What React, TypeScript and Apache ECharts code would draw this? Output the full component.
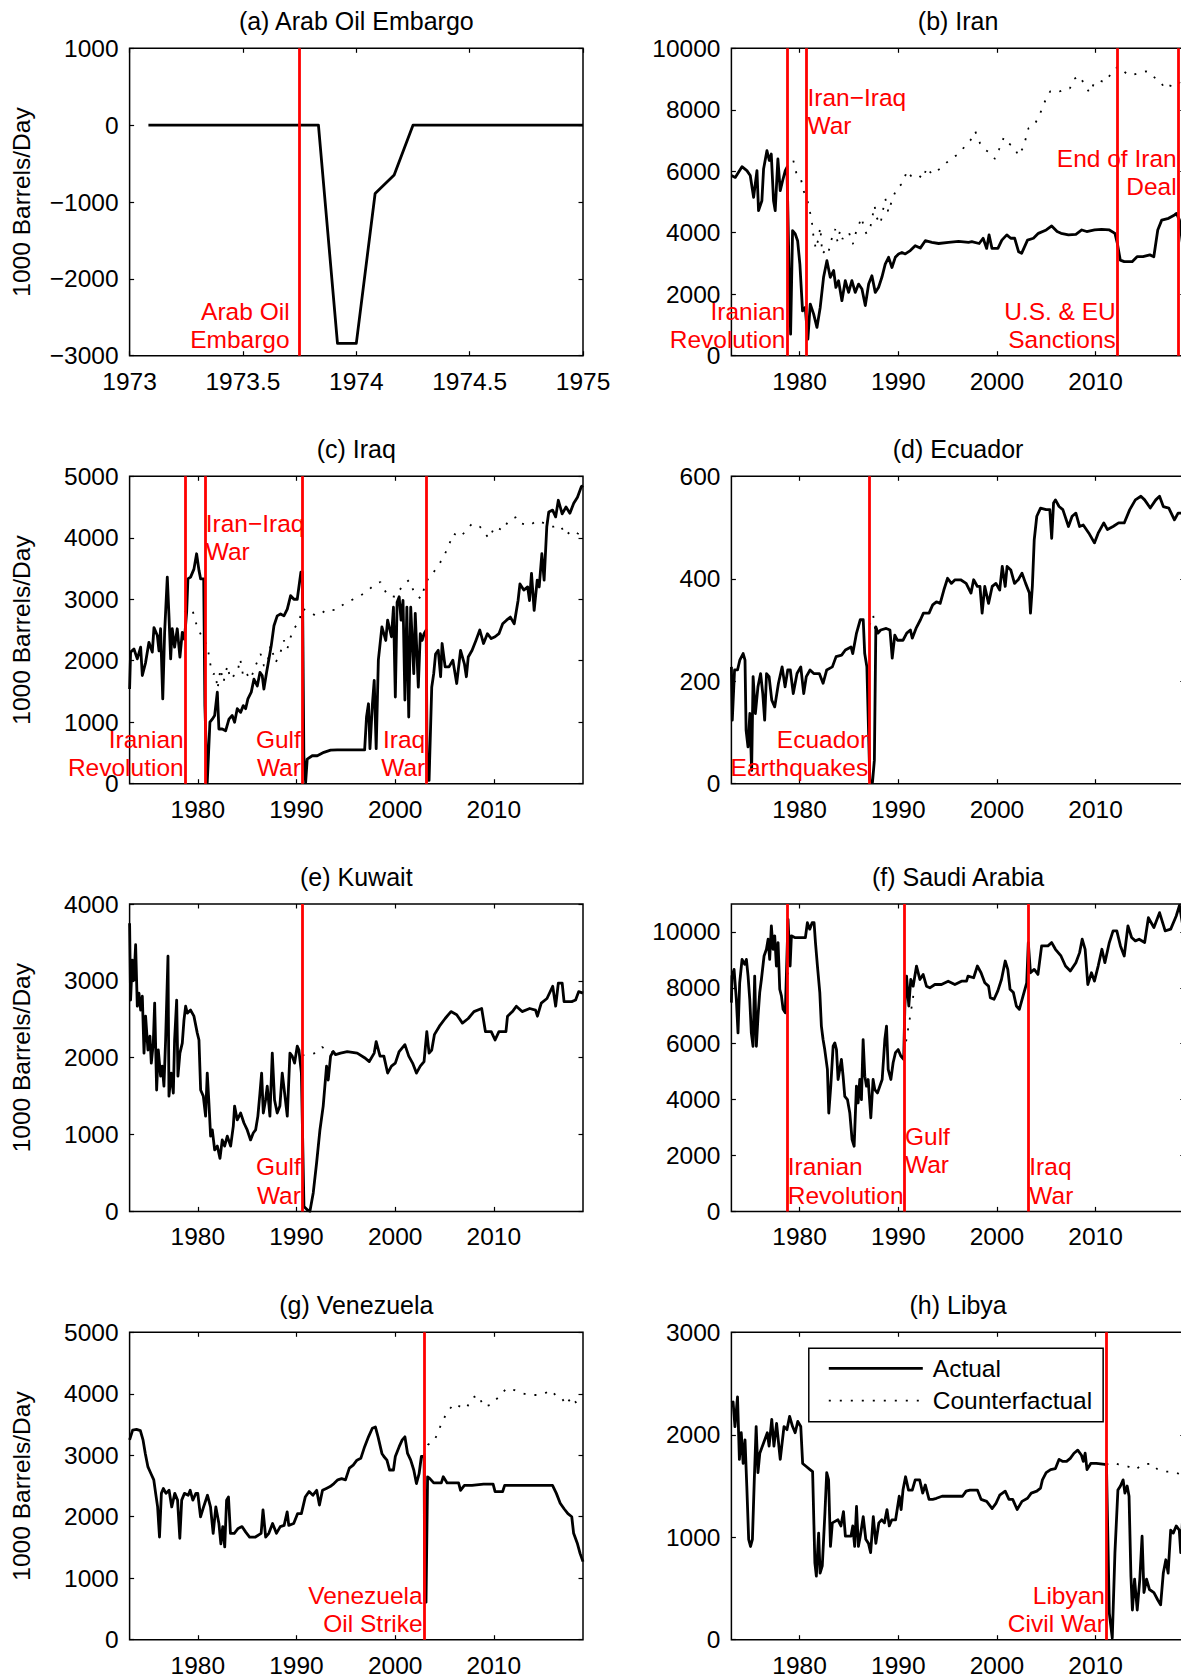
import React, { useEffect, useRef } from "react";
import * as echarts from "echarts";

type Pt = [number, number];

const FONT = '"Liberation Sans", Arial, Helvetica, sans-serif';

// ---------- titles / text ----------
const TITLES = [
  "(a) Arab Oil Embargo",
  "(b) Iran",
  "(c) Iraq",
  "(d) Ecuador",
  "(e) Kuwait",
  "(f) Saudi Arabia",
  "(g) Venezuela",
  "(h) Libya",
];
const Y_NAME = "1000 Barrels/Day";
const LEGEND_NAMES = ["Actual", "Counterfactual"];

// ---------- event dates ----------
const EMBARGO = 1973.75;
const IRAN_REV = 1978.72;
const IRAN_IRAQ = 1980.72;
const GULF_WAR = 1990.6;
const IRAQ_WAR = 2003.2;
const SANCTIONS = 2012.2;
const DEAL_END = 2018.37;
const ECU_QUAKE = 1987.1;
const VEN_STRIKE = 2002.94;
const LIBYA_WAR = 2011.1;

// ---------- axes ----------
const X_MIN = 1973.09;
const X_MAX = 2019.04;
const X_TICKS = [1980, 1990, 2000, 2010];
const EMB_X = { min: 1973, max: 1975, step: 0.5 };
const Y_MIN = [-3000, 0, 0, 0, 0, 0, 0, 0];
const Y_MAX = [1000, 10000, 5000, 600, 4000, 11000, 5000, 3000];
const Y_STEP = [1000, 2000, 1000, 200, 1000, 2000, 1000, 1000];

// ---------- data ----------
const embargoActual: Pt[] = [
  [1973.083, 0], [1973.833, 0], [1973.917, -2840], [1974.0, -2840],
  [1974.083, -890], [1974.167, -650], [1974.25, 0], [1975.0, 0],
];

const iranActual: Pt[] = [
  [1973.09, 5860], [1973.48, 5800], [1974.16, 6150], [1974.66, 6020], [1975.0, 5860], [1975.34, 5150],
  [1975.68, 6020], [1975.84, 4720], [1976.18, 5040], [1976.35, 6070], [1976.69, 6670], [1976.93, 6350],
  [1977.13, 6560], [1977.36, 5040], [1977.53, 4720], [1977.8, 6400], [1978.04, 5370], [1978.28, 5690],
  [1978.55, 6020], [1978.72, 6130], [1978.95, 2550], [1979.09, 700], [1979.29, 4070], [1979.56, 3960],
  [1979.8, 3740], [1980.03, 2980], [1980.3, 1460], [1980.57, 1570], [1980.84, 540], [1981.08, 1680],
  [1981.42, 1360], [1981.76, 920], [1982.09, 1570], [1982.43, 2550], [1982.77, 3090], [1983.11, 2550],
  [1983.45, 2770], [1983.68, 2220], [1983.95, 2440], [1984.29, 1790], [1984.63, 2440], [1984.97, 2060],
  [1985.3, 2440], [1985.64, 2060], [1985.98, 2330], [1986.32, 2170], [1986.66, 1630], [1987.0, 2330],
  [1987.33, 2600], [1987.67, 2060], [1988.0, 2220], [1988.34, 2550], [1988.68, 2980], [1989.02, 3200],
  [1989.36, 2870], [1989.7, 3200], [1990.03, 3310], [1990.37, 3360], [1990.71, 3310], [1991.22, 3420],
  [1991.72, 3580], [1992.23, 3500], [1992.74, 3740], [1993.41, 3690], [1994.09, 3650], [1995.1, 3690],
  [1996.11, 3720], [1997.13, 3690], [1997.45, 3710], [1998.2, 3650], [1998.6, 3820], [1998.96, 3490],
  [1999.2, 3930], [1999.5, 3490], [2000.1, 3490], [2000.5, 3760], [2001.0, 3930], [2001.4, 3820],
  [2001.8, 3820], [2002.2, 3380], [2002.5, 3330], [2003.1, 3760], [2003.7, 3820], [2004.2, 3980],
  [2005.0, 4090], [2005.55, 4220], [2006.1, 4040], [2006.5, 3980], [2007.25, 3930], [2008.0, 3950],
  [2008.6, 4090], [2009.1, 4040], [2009.9, 4090], [2010.6, 4110], [2011.4, 4090], [2011.96, 3980],
  [2012.2, 3660], [2012.5, 3110], [2012.9, 3060], [2013.7, 3060], [2014.2, 3220], [2014.8, 3220],
  [2015.5, 3280], [2015.9, 3220], [2016.3, 4090], [2016.7, 4410], [2017.4, 4470], [2018.0, 4580],
  [2018.2, 4630], [2018.5, 4410], [2018.85, 3550], [2019.04, 3300],
];
const iranCounter: Pt[] = [
  [1978.72, 6130], [1979.0, 6320], [1979.35, 6370], [1979.7, 5900], [1980.1, 5800], [1980.4, 5370],
  [1980.8, 5040], [1981.1, 4600], [1981.25, 4340], [1981.4, 3900], [1981.65, 3470], [1981.86, 3740],
  [1982.1, 4180], [1982.3, 3310], [1982.6, 3420], [1982.9, 3310], [1983.1, 3630], [1983.35, 3900],
  [1983.6, 4120], [1983.85, 3700], [1984.1, 4070], [1984.35, 3800], [1984.6, 3900], [1985.0, 4010],
  [1985.4, 3630], [1985.8, 4120], [1986.05, 4300], [1986.3, 4500], [1986.55, 4100], [1986.8, 3960],
  [1987.2, 4230], [1987.6, 4880], [1987.8, 4500], [1988.2, 4280], [1988.4, 4660], [1988.7, 5100],
  [1989.0, 4660], [1989.4, 5100], [1989.9, 5480], [1990.4, 5590], [1990.9, 6020], [1991.4, 5800],
  [1992.1, 5860], [1992.5, 5750], [1992.9, 6130], [1993.4, 5900], [1993.75, 5970], [1994.3, 6100],
  [1994.8, 6250], [1995.3, 6400], [1996.1, 6560], [1996.8, 6830], [1997.3, 7000], [1997.8, 7300],
  [1998.3, 6900], [1998.8, 6700], [1999.3, 6600], [1999.8, 6400], [2000.2, 6700], [2000.7, 7100],
  [2001.2, 6900], [2001.7, 6800], [2002.2, 6500], [2002.7, 6800], [2003.2, 7400], [2003.8, 7500],
  [2004.4, 7900], [2004.9, 8300], [2005.4, 8600], [2005.9, 8650], [2006.4, 8600], [2006.9, 8700],
  [2007.4, 8700], [2007.8, 9000], [2008.4, 9100], [2008.9, 8800], [2009.4, 8550], [2009.9, 8900],
  [2010.4, 8950], [2010.9, 8900], [2011.4, 9100], [2011.9, 9250], [2012.2, 9400], [2012.7, 9300],
  [2013.3, 9130], [2013.9, 9150], [2014.5, 9200], [2015.1, 9250], [2015.6, 9200], [2016.1, 9000],
  [2016.6, 8900], [2017.0, 8700], [2017.4, 8800], [2017.9, 8750], [2018.4, 8900], [2019.04, 8750],
];

const iraqActual: Pt[] = [
  [1973.09, 1540], [1973.19, 2140], [1973.53, 2190], [1973.87, 2030], [1974.21, 2220], [1974.38, 1760],
  [1974.71, 1970], [1975.05, 2300], [1975.39, 2140], [1975.56, 2540], [1975.9, 2410], [1976.07, 2160],
  [1976.23, 2520], [1976.45, 1380], [1976.64, 2460], [1976.91, 3360], [1977.08, 2730], [1977.25, 2030],
  [1977.41, 2520], [1977.65, 2220], [1977.92, 2520], [1978.19, 2060], [1978.43, 2460], [1978.65, 2350],
  [1978.87, 2790], [1979.0, 3330], [1979.27, 3360], [1979.61, 3490], [1979.88, 3740], [1980.12, 3470],
  [1980.29, 3330], [1980.6, 3330], [1980.72, 1270], [1980.96, 20], [1981.23, 1000], [1981.47, 1050],
  [1981.71, 1110], [1981.98, 1490], [1982.14, 890], [1982.48, 890], [1982.82, 860], [1983.16, 1050],
  [1983.49, 1110], [1983.73, 1000], [1984.0, 1220], [1984.34, 1160], [1984.61, 1270], [1984.85, 1220],
  [1985.08, 1380], [1985.42, 1490], [1985.69, 1700], [1986.03, 1590], [1986.3, 1810], [1986.53, 1760],
  [1986.7, 1540], [1986.97, 1810], [1987.21, 2030], [1987.45, 2250], [1987.72, 2570], [1988.05, 2730],
  [1988.39, 2760], [1988.73, 2730], [1989.07, 2840], [1989.41, 3060], [1989.74, 3000], [1990.08, 3000],
  [1990.45, 3440], [1990.6, 3440], [1990.75, 455], [1990.93, 20], [1991.09, 400], [1991.6, 455],
  [1992.11, 455], [1992.78, 510], [1993.46, 545], [1994.13, 550], [1995.14, 550], [1996.16, 550],
  [1996.91, 550], [1997.1, 1085], [1997.3, 1300], [1997.45, 570], [1997.7, 1300], [1997.88, 1680],
  [1998.08, 570], [1998.3, 2010], [1998.66, 2550], [1999.05, 2330], [1999.24, 2660], [1999.63, 2390],
  [1999.83, 2870], [2000.02, 1410], [2000.2, 2950], [2000.41, 3040], [2000.6, 2660], [2000.8, 2980],
  [2000.99, 1360], [2001.19, 2870], [2001.38, 1085], [2001.58, 2870], [2001.89, 1790], [2002.04, 2770],
  [2002.35, 1570], [2002.55, 2440], [2002.74, 2330], [2002.93, 2440], [2003.15, 2500], [2003.25, 54],
  [2003.44, 54], [2003.71, 1570], [2003.91, 1790], [2004.1, 2110], [2004.37, 2170], [2004.61, 1740],
  [2004.76, 2280], [2005.07, 1900], [2005.46, 1900], [2005.85, 2010], [2006.24, 1630], [2006.63, 2170],
  [2007.02, 1950], [2007.22, 1740], [2007.41, 2060], [2007.8, 2170], [2008.19, 2330], [2008.58, 2500],
  [2008.96, 2280], [2009.35, 2440], [2009.74, 2360], [2010.13, 2390], [2010.52, 2440], [2010.9, 2600],
  [2011.29, 2660], [2011.68, 2710], [2012.07, 2600], [2012.46, 2980], [2012.65, 3250], [2013.04, 3150],
  [2013.43, 3200], [2013.62, 2980], [2013.82, 3420], [2014.09, 2820], [2014.4, 3310], [2014.6, 3200],
  [2014.87, 3740], [2015.1, 3310], [2015.37, 4180], [2015.57, 4420], [2015.96, 4450], [2016.27, 4340],
  [2016.54, 4610], [2016.93, 4390], [2017.32, 4500], [2017.71, 4400], [2018.1, 4560], [2018.48, 4660],
  [2018.87, 4830], [2019.04, 4850],
];
const iraqCounter: Pt[] = [
  [1978.72, 2790], [1978.94, 2840], [1979.45, 2830], [1979.95, 2540], [1980.46, 2380], [1980.96, 2250],
  [1981.3, 1920], [1981.57, 1780], [1981.8, 1800], [1982.0, 1540], [1982.3, 1870], [1982.6, 1650],
  [1983.0, 1920], [1983.3, 1700], [1983.6, 1750], [1984.0, 1800], [1984.3, 2030], [1984.6, 1750],
  [1984.85, 1810], [1985.35, 1700], [1985.86, 1920], [1986.37, 2110], [1986.7, 1920], [1987.0, 1920],
  [1987.38, 2250], [1987.89, 1970], [1988.39, 2140], [1988.73, 2330], [1989.07, 2190], [1989.4, 2380],
  [1989.74, 2520], [1990.25, 2630], [1990.6, 2850], [1990.93, 2820], [1991.43, 2790], [1991.94, 2730],
  [1992.45, 2760], [1993.12, 2840], [1993.97, 2820], [1994.8, 2920], [1995.5, 2980], [1996.5, 3060],
  [1997.3, 3150], [1998.0, 3250], [1998.5, 3280], [1999.24, 3060], [2000.0, 3040], [2000.8, 3230],
  [2001.4, 3310], [2002.0, 3090], [2002.6, 3010], [2003.1, 3250], [2003.5, 3390], [2003.9, 3440],
  [2004.7, 3630], [2005.3, 3820], [2005.9, 4070], [2006.6, 4010], [2007.2, 4120], [2007.8, 4230],
  [2008.6, 4180], [2009.5, 3990], [2010.1, 4180], [2010.9, 4120], [2011.5, 4280], [2012.3, 4340],
  [2012.85, 4230], [2013.6, 4200], [2014.4, 4280], [2015.2, 4230], [2016.0, 4180], [2016.75, 4200],
  [2017.3, 4040], [2017.9, 4120], [2018.5, 4070], [2019.04, 4040],
];

const ecuadorActual: Pt[] = [
  [1973.09, 228], [1973.18, 124], [1973.41, 222], [1973.71, 222], [1973.94, 241], [1974.28, 254],
  [1974.47, 241], [1974.58, 104], [1974.77, 72], [1974.96, 137], [1975.14, 26], [1975.29, 209],
  [1975.52, 137], [1975.78, 189], [1976.05, 215], [1976.27, 176], [1976.46, 124], [1976.65, 215],
  [1976.91, 209], [1977.18, 163], [1977.48, 150], [1977.86, 196], [1978.23, 228], [1978.53, 189],
  [1978.8, 222], [1979.06, 222], [1979.36, 176], [1979.74, 215], [1980.12, 228], [1980.42, 176],
  [1980.68, 209], [1981.06, 222], [1981.44, 215], [1982.0, 215], [1982.38, 196], [1982.75, 222],
  [1983.32, 228], [1983.7, 248], [1984.26, 251], [1984.64, 261], [1985.21, 267], [1985.39, 254],
  [1985.77, 294], [1986.15, 320], [1986.45, 320], [1986.6, 254], [1986.82, 228], [1987.12, 7],
  [1987.39, 3], [1987.58, 46], [1987.73, 306], [1987.95, 294], [1988.22, 300], [1988.78, 303],
  [1989.16, 300], [1989.39, 245], [1989.65, 290], [1989.91, 280], [1990.48, 280], [1990.86, 294],
  [1991.23, 300], [1991.42, 284], [1991.8, 303], [1992.25, 320], [1992.55, 333], [1993.12, 333],
  [1993.49, 349], [1993.87, 355], [1994.25, 352], [1994.62, 378], [1995.0, 401], [1995.38, 391],
  [1995.75, 398], [1996.32, 398], [1996.88, 391], [1997.37, 372], [1997.64, 398], [1998.02, 385],
  [1998.28, 385], [1998.5, 333], [1998.77, 385], [1999.15, 352], [1999.52, 385], [1999.9, 391],
  [2000.28, 378], [2000.54, 424], [2000.84, 385], [2001.03, 424], [2001.41, 417], [2001.78, 391],
  [2002.16, 398], [2002.54, 411], [2002.91, 391], [2003.29, 372], [2003.4, 333], [2003.59, 385],
  [2003.78, 476], [2004.04, 522], [2004.42, 538], [2004.99, 535], [2005.36, 535], [2005.55, 479],
  [2005.74, 548], [2005.93, 554], [2006.3, 541], [2006.68, 535], [2007.25, 502], [2007.62, 522],
  [2008.0, 528], [2008.38, 502], [2008.75, 505], [2009.32, 489], [2009.88, 470], [2010.26, 489],
  [2010.83, 509], [2011.2, 496], [2011.77, 502], [2012.33, 509], [2012.9, 509], [2013.46, 535],
  [2014.03, 554], [2014.59, 561], [2014.97, 554], [2015.54, 538], [2016.1, 554], [2016.48, 561],
  [2016.86, 541], [2017.42, 538], [2017.99, 515], [2018.36, 528], [2018.85, 528], [2019.04, 520],
];
const ecuadorCounter: Pt[] = [[1987.1, 310], [1987.46, 329], [1987.65, 303], [1987.8, 300]];

const kuwaitActual: Pt[] = [
  [1973.09, 3750], [1973.19, 2750], [1973.36, 3270], [1973.53, 3010], [1973.7, 3470], [1973.87, 2670],
  [1974.04, 2840], [1974.21, 2620], [1974.38, 2800], [1974.55, 2060], [1974.71, 2540], [1974.95, 2100],
  [1975.15, 2280], [1975.29, 1930], [1975.49, 2190], [1975.63, 2710], [1975.83, 1580], [1976.0, 2100],
  [1976.23, 1760], [1976.4, 1890], [1976.57, 1630], [1976.74, 2230], [1976.98, 3320], [1977.08, 1500],
  [1977.3, 1800], [1977.52, 1540], [1977.65, 2230], [1977.86, 2750], [1977.99, 1760], [1978.19, 2060],
  [1978.43, 2190], [1978.6, 2490], [1978.77, 2670], [1978.94, 2580], [1979.27, 2620], [1979.61, 2540],
  [1979.95, 2320], [1980.12, 2230], [1980.29, 1580], [1980.56, 1500], [1980.79, 1240], [1980.96, 1800],
  [1981.13, 1410], [1981.3, 980], [1981.47, 1060], [1981.71, 800], [1981.98, 850], [1982.25, 690],
  [1982.48, 930], [1982.72, 850], [1982.99, 980], [1983.33, 850], [1983.6, 1110], [1983.73, 1370],
  [1984.0, 1190], [1984.34, 1280], [1984.68, 1150], [1985.01, 1060], [1985.35, 930], [1985.62, 1020],
  [1985.86, 1060], [1986.09, 1240], [1986.3, 1540], [1986.47, 1800], [1986.64, 1280], [1986.87, 1450],
  [1987.04, 1630], [1987.31, 1240], [1987.55, 2060], [1987.78, 1450], [1988.05, 1280], [1988.32, 1370],
  [1988.56, 1800], [1988.8, 1540], [1989.07, 1240], [1989.34, 2060], [1989.57, 2020], [1989.81, 1930],
  [1990.08, 2150], [1990.25, 2100], [1990.5, 1800], [1990.76, 65], [1991.09, 22], [1991.36, 0],
  [1991.7, 240], [1992.04, 630], [1992.38, 1060], [1992.71, 1370], [1993.05, 1890], [1993.22, 1710],
  [1993.46, 2020], [1993.73, 2080], [1993.96, 2040], [1994.47, 2060], [1995.15, 2080], [1996.16, 2060],
  [1996.9, 2000], [1997.38, 1950], [1997.88, 2060], [1998.08, 2210], [1998.47, 2020], [1998.86, 2020],
  [1999.24, 1800], [1999.63, 1890], [2000.02, 1930], [2000.41, 2080], [2000.99, 2170], [2001.38, 2020],
  [2001.77, 1930], [2002.16, 1800], [2002.55, 1890], [2002.93, 1950], [2003.21, 2340], [2003.44, 2060],
  [2003.71, 2100], [2003.98, 2300], [2004.49, 2410], [2005.07, 2510], [2005.66, 2600], [2006.24, 2560],
  [2006.82, 2450], [2007.41, 2510], [2007.99, 2600], [2008.77, 2640], [2009.15, 2340], [2009.74, 2340],
  [2010.13, 2230], [2010.52, 2340], [2011.23, 2340], [2011.39, 2540], [2011.89, 2600], [2012.28, 2670],
  [2012.87, 2600], [2013.64, 2640], [2014.23, 2620], [2014.42, 2540], [2014.81, 2710], [2015.39, 2770],
  [2015.97, 2930], [2016.27, 2670], [2016.54, 2970], [2016.93, 2970], [2017.12, 2730], [2017.9, 2730],
  [2018.29, 2750], [2018.6, 2860], [2019.04, 2840],
];
const kuwaitCounter: Pt[] = [[1990.6, 2030], [1991.2, 2040], [1991.9, 2060], [1992.6, 2140], [1993.3, 2080], [1993.9, 2070]];

const saudiActual: Pt[] = [
  [1973.09, 7470], [1973.15, 8420], [1973.36, 8660], [1973.59, 7590], [1973.76, 6390], [1973.93, 8180],
  [1974.17, 9020], [1974.44, 8840], [1974.61, 9020], [1974.78, 8420], [1974.95, 7590], [1975.11, 6390],
  [1975.28, 5910], [1975.45, 8420], [1975.62, 5910], [1975.79, 6990], [1975.96, 7830], [1976.13, 8300],
  [1976.4, 9140], [1976.64, 9380], [1976.81, 9740], [1976.97, 9020], [1977.14, 10220], [1977.31, 9380],
  [1977.48, 9860], [1977.65, 8780], [1977.82, 9620], [1977.99, 7950], [1978.16, 7710], [1978.33, 7230],
  [1978.55, 7110], [1978.83, 10450], [1979.04, 8780], [1979.17, 9860], [1979.51, 9800], [1980.02, 9800],
  [1980.59, 9800], [1980.79, 10330], [1981.03, 10100], [1981.27, 10330], [1981.47, 10330], [1981.61, 9620],
  [1981.81, 8780], [1982.05, 7830], [1982.21, 6630], [1982.38, 6150], [1982.55, 5790], [1982.82, 5080],
  [1982.96, 3520], [1983.16, 4480], [1983.4, 5910], [1983.57, 6030], [1983.74, 5790], [1983.9, 4720],
  [1984.07, 5080], [1984.24, 5440], [1984.41, 4840], [1984.58, 4120], [1984.85, 4000], [1985.09, 3520],
  [1985.32, 2570], [1985.53, 2330], [1985.76, 4480], [1985.93, 3880], [1986.1, 4720], [1986.27, 4000],
  [1986.44, 6150], [1986.61, 4840], [1986.78, 4480], [1986.95, 4720], [1987.22, 3350], [1987.45, 4720],
  [1987.62, 4360], [1987.89, 4240], [1988.13, 4480], [1988.37, 4720], [1988.64, 6150], [1988.81, 6630],
  [1988.98, 5080], [1989.25, 4720], [1989.48, 5320], [1989.72, 5680], [1989.99, 5790], [1990.26, 5560],
  [1990.55, 5440], [1990.67, 7350], [1990.84, 8420], [1991.07, 7350], [1991.27, 8300], [1991.51, 8060],
  [1991.85, 8780], [1992.19, 8300], [1992.52, 8480], [1992.86, 8060], [1993.2, 8000], [1993.71, 8120],
  [1994.38, 8120], [1995.06, 8240], [1995.74, 8120], [1996.41, 8240], [1996.92, 8240], [1997.07, 8420],
  [1997.64, 8360], [1998.02, 8780], [1998.39, 8540], [1998.77, 8180], [1999.15, 8060], [1999.33, 7650],
  [1999.71, 7590], [2000.09, 7890], [2000.46, 8300], [2000.84, 8960], [2001.1, 8660], [2001.33, 7950],
  [2001.67, 7830], [2001.97, 7350], [2002.27, 7230], [2002.65, 7710], [2003.02, 8180], [2003.18, 9620],
  [2003.4, 8540], [2003.78, 8660], [2004.16, 8480], [2004.53, 9500], [2005.17, 9500], [2005.55, 9620],
  [2005.93, 9380], [2006.49, 9140], [2006.95, 8780], [2007.44, 8600], [2008.0, 8900], [2008.38, 9260],
  [2008.64, 9740], [2008.94, 9380], [2009.21, 8120], [2009.58, 8540], [2009.88, 8240], [2010.26, 8780],
  [2010.64, 9380], [2010.94, 8900], [2011.39, 9620], [2011.77, 10040], [2012.15, 10040], [2012.52, 9500],
  [2012.9, 9140], [2013.28, 10220], [2013.65, 9800], [2014.03, 9680], [2014.41, 9740], [2014.97, 9620],
  [2015.35, 10510], [2015.91, 10160], [2016.48, 10690], [2017.05, 10040], [2017.61, 10100], [2018.17, 10570],
  [2018.5, 10950], [2018.8, 10300], [2019.04, 10200],
];
const saudiCounterRev: Pt[] = [[1978.72, 8500], [1979.0, 8520], [1979.15, 8450]];
const saudiCounterGulf: Pt[] = [[1990.6, 5700], [1990.85, 6200], [1991.1, 6750], [1991.35, 7300], [1991.6, 7900]];

const venezActual: Pt[] = [
  [1973.09, 3250], [1973.4, 3410], [1973.79, 3420], [1974.18, 3400], [1974.45, 3250], [1974.68, 3030],
  [1974.95, 2810], [1975.26, 2700], [1975.54, 2600], [1975.73, 2380], [1975.93, 2160], [1976.12, 1670],
  [1976.31, 2380], [1976.51, 2460], [1976.78, 2380], [1977.09, 2430], [1977.36, 2160], [1977.67, 2380],
  [1977.95, 2270], [1978.18, 1650], [1978.37, 2270], [1978.65, 2380], [1979.03, 2350], [1979.23, 2430],
  [1979.5, 2270], [1979.81, 2380], [1980.0, 2380], [1980.28, 2000], [1980.59, 2160], [1980.98, 2350],
  [1981.29, 2160], [1981.56, 1730], [1981.83, 2160], [1982.14, 1890], [1982.34, 1560], [1982.53, 1840],
  [1982.73, 1510], [1982.92, 2270], [1983.11, 2320], [1983.31, 1730], [1983.7, 1730], [1984.09, 1810],
  [1984.48, 1840], [1984.86, 1750], [1985.25, 1670], [1985.84, 1670], [1986.42, 1730], [1986.61, 2110],
  [1986.88, 1670], [1987.2, 1730], [1987.58, 1890], [1987.97, 1730], [1988.36, 1840], [1988.75, 1860],
  [1989.06, 2080], [1989.22, 1860], [1989.72, 1890], [1990.11, 2050], [1990.5, 2050], [1990.89, 2320],
  [1991.28, 2410], [1991.67, 2350], [1992.05, 2430], [1992.33, 2190], [1992.64, 2430], [1993.03, 2460],
  [1993.41, 2490], [1993.8, 2540], [1994.19, 2600], [1994.58, 2620], [1994.97, 2600], [1995.36, 2790],
  [1995.75, 2840], [1996.13, 2920], [1996.52, 2950], [1996.91, 3140], [1997.3, 3300], [1997.69, 3440],
  [1998.0, 3460], [1998.27, 3300], [1998.66, 3030], [1998.86, 2980], [1999.17, 2920], [1999.44, 2760],
  [1999.83, 2760], [2000.02, 2980], [2000.41, 3140], [2000.72, 3250], [2000.99, 3300], [2001.26, 3030],
  [2001.58, 2920], [2001.89, 2760], [2002.16, 2540], [2002.43, 2700], [2002.66, 2980], [2002.94, 2980],
  [2003.0, 640], [2003.13, 610], [2003.29, 2650], [2003.52, 2620], [2003.91, 2550], [2004.68, 2550],
  [2004.88, 2650], [2005.27, 2550], [2006.43, 2550], [2006.63, 2430], [2007.02, 2510], [2007.79, 2510],
  [2008.96, 2530], [2009.93, 2530], [2010.13, 2410], [2010.9, 2410], [2011.1, 2510], [2015.95, 2510],
  [2016.34, 2380], [2016.73, 2220], [2017.12, 2130], [2017.51, 2050], [2017.9, 2000], [2018.09, 1730],
  [2018.48, 1560], [2018.75, 1400], [2019.04, 1270],
];
const venezCounter: Pt[] = [
  [2002.94, 3000], [2003.3, 3170], [2003.9, 3220], [2004.3, 3350], [2004.7, 3520], [2005.3, 3710],
  [2006.0, 3840], [2006.6, 3790], [2007.2, 3760], [2007.8, 3930], [2008.4, 3980], [2009.0, 3790],
  [2009.7, 3820], [2010.5, 3950], [2011.3, 4090], [2012.1, 4060], [2012.85, 4010], [2013.6, 3980],
  [2014.4, 3980], [2015.2, 4010], [2015.8, 4060], [2016.4, 3950], [2016.9, 3930], [2017.3, 3820],
  [2017.9, 3950], [2018.5, 3820], [2019.04, 3790],
];

const libyaActual: Pt[] = [
  [1973.09, 2310], [1973.26, 2320], [1973.45, 2080], [1973.71, 2370], [1973.9, 1760], [1974.09, 2020],
  [1974.28, 1720], [1974.47, 1950], [1974.65, 1500], [1974.84, 980], [1975.03, 910], [1975.22, 980],
  [1975.41, 1560], [1975.6, 2080], [1975.78, 1630], [1975.97, 1820], [1976.35, 1920], [1976.73, 2020],
  [1976.91, 1890], [1977.18, 2150], [1977.4, 1890], [1977.67, 2110], [1978.04, 1760], [1978.42, 2080],
  [1978.72, 2050], [1978.99, 2180], [1979.29, 2080], [1979.55, 2020], [1979.82, 2130], [1980.12, 2080],
  [1980.31, 1720], [1980.68, 1690], [1981.06, 1660], [1981.32, 1640], [1981.55, 750], [1981.7, 620],
  [1981.93, 1040], [1982.08, 650], [1982.3, 720], [1982.57, 1240], [1982.75, 1630], [1982.94, 1560],
  [1983.13, 910], [1983.32, 1140], [1983.89, 1170], [1984.19, 1110], [1984.45, 1250], [1984.64, 1010],
  [1985.21, 1010], [1985.39, 1110], [1985.58, 910], [1985.77, 1300], [1985.96, 910], [1986.15, 1010],
  [1986.45, 1200], [1986.71, 980], [1986.98, 940], [1987.2, 850], [1987.47, 1200], [1987.73, 940],
  [1988.03, 1140], [1988.33, 1170], [1988.6, 1140], [1988.86, 1270], [1989.09, 1110], [1989.35, 1170],
  [1989.73, 1170], [1990.1, 1400], [1990.29, 1270], [1990.48, 1460], [1990.74, 1590], [1991.04, 1460],
  [1991.42, 1460], [1991.72, 1560], [1992.17, 1560], [1992.48, 1430], [1992.74, 1510], [1993.12, 1370],
  [1993.49, 1370], [1993.87, 1380], [1994.44, 1400], [1995.19, 1400], [1995.94, 1400], [1996.51, 1400],
  [1996.88, 1450], [1997.26, 1460], [1998.02, 1460], [1998.39, 1370], [1998.96, 1350], [1999.52, 1280],
  [1999.9, 1330], [2000.28, 1410], [2000.84, 1450], [2001.22, 1370], [2001.6, 1370], [2002.05, 1270],
  [2002.54, 1350], [2003.1, 1380], [2003.48, 1430], [2004.04, 1450], [2004.42, 1480], [2004.61, 1560],
  [2004.99, 1630], [2005.44, 1660], [2005.93, 1670], [2006.3, 1760], [2006.68, 1740], [2007.06, 1740],
  [2007.43, 1770], [2007.81, 1820], [2008.19, 1850], [2008.57, 1800], [2008.75, 1740], [2008.94, 1820],
  [2009.13, 1660], [2009.51, 1720], [2010.07, 1720], [2010.94, 1710], [2011.1, 1710], [2011.39, 260],
  [2011.69, 16], [2011.96, 850], [2012.26, 1460], [2012.52, 1500], [2012.79, 1560], [2012.97, 1430],
  [2013.2, 1500], [2013.39, 1400], [2013.58, 620], [2013.73, 290], [2013.95, 590], [2014.22, 290],
  [2014.48, 590], [2014.71, 1010], [2014.9, 460], [2015.16, 590], [2015.46, 490], [2015.91, 460],
  [2016.29, 390], [2016.59, 340], [2016.86, 650], [2017.12, 780], [2017.35, 650], [2017.61, 1070],
  [2017.87, 1040], [2018.17, 1110], [2018.48, 1070], [2018.63, 850], [2018.85, 1240], [2019.04, 1250],
];
const libyaCounter: Pt[] = [
  [2011.1, 1710], [2011.58, 1730], [2012.33, 1710], [2013.28, 1690], [2014.03, 1660], [2014.78, 1710],
  [2015.73, 1720], [2016.29, 1660], [2017.05, 1640], [2017.8, 1640], [2018.74, 1610], [2019.04, 1600],
];

// ---------- event annotations ----------
type Lbl = { text: string; at: number; side: "left" | "right"; anchor: "top" | "bottom"; dy?: number; dx?: number };
const LABELS: Lbl[][] = [
  [{ text: "Arab Oil\nEmbargo", at: EMBARGO, side: "left", anchor: "bottom", dx: -10 }],
  [
    { text: "Iranian\nRevolution", at: IRAN_REV, side: "left", anchor: "bottom" },
    { text: "Iran\u2212Iraq\nWar", at: IRAN_IRAQ, side: "right", anchor: "top", dy: 35 },
    { text: "U.S. & EU\nSanctions", at: SANCTIONS, side: "left", anchor: "bottom" },
    { text: "End of Iran\nDeal", at: DEAL_END, side: "left", anchor: "top", dy: 96 },
  ],
  [
    { text: "Iranian\nRevolution", at: IRAN_REV, side: "left", anchor: "bottom" },
    { text: "Iran\u2212Iraq\nWar", at: IRAN_IRAQ, side: "right", anchor: "top", dy: 33 },
    { text: "Gulf\nWar", at: GULF_WAR, side: "left", anchor: "bottom" },
    { text: "Iraq\nWar", at: IRAQ_WAR, side: "left", anchor: "bottom" },
  ],
  [{ text: "Ecuador\nEarthquakes", at: ECU_QUAKE, side: "left", anchor: "bottom" }],
  [{ text: "Gulf\nWar", at: GULF_WAR, side: "left", anchor: "bottom" }],
  [
    { text: "Iranian\nRevolution", at: IRAN_REV, side: "right", anchor: "bottom" },
    { text: "Gulf\nWar", at: GULF_WAR, side: "right", anchor: "bottom", dy: -32.7 },
    { text: "Iraq\nWar", at: IRAQ_WAR, side: "right", anchor: "bottom" },
  ],
  [{ text: "Venezuela\nOil Strike", at: VEN_STRIKE, side: "left", anchor: "bottom" }],
  [{ text: "Libyan\nCivil War", at: LIBYA_WAR, side: "left", anchor: "bottom" }],
];

const PANELS = [
  { actual: embargoActual, counter: [] as Pt[][], events: [EMBARGO] },
  { actual: iranActual, counter: [iranCounter], events: [IRAN_REV, IRAN_IRAQ, SANCTIONS, DEAL_END] },
  { actual: iraqActual, counter: [iraqCounter], events: [IRAN_REV, IRAN_IRAQ, GULF_WAR, IRAQ_WAR] },
  { actual: ecuadorActual, counter: [ecuadorCounter], events: [ECU_QUAKE] },
  { actual: kuwaitActual, counter: [kuwaitCounter], events: [GULF_WAR] },
  { actual: saudiActual, counter: [saudiCounterRev, saudiCounterGulf], events: [IRAN_REV, GULF_WAR, IRAQ_WAR] },
  { actual: venezActual, counter: [venezCounter], events: [VEN_STRIKE] },
  { actual: libyaActual, counter: [libyaCounter], events: [LIBYA_WAR] },
];

// ---------- layout (pixels) ----------
const COL_LEFT = [129.6, 731.4];
const GRID_W = 453.4;
const ROW_TOP = [48.3, 476.3, 904.0, 1332.3];
const GRID_H = 307.4;
const FS = 24.5;
const ACT_W = 2.8;
const CF_W = 1.8;

const fmtNum = (v: number) => (v < 0 ? "\u2212" + Math.abs(v) : String(v));

function buildOption() {
  const grid: any[] = [];
  const xAxis: any[] = [];
  const yAxis: any[] = [];
  const series: any[] = [];
  const title: any[] = [];
  const tick = { show: true, inside: true, length: 4.5, lineStyle: { color: "#000", width: 1.2 } };
  const noLine = { show: false, onZero: false };
  const lblStyle = { color: "#000", fontSize: FS, fontFamily: FONT };

  PANELS.forEach((p, i) => {
    const col = i % 2;
    const row = Math.floor(i / 2);
    const left = COL_LEFT[col];
    const top = ROW_TOP[row];
    grid.push({
      left, top, width: GRID_W, height: GRID_H, show: true,
      borderColor: "#000", borderWidth: 1.5, backgroundColor: "rgba(0,0,0,0)",
      containLabel: false, outerBoundsMode: "none",
    });
    title.push({
      text: TITLES[i], left: left + GRID_W / 2, top: top - 39.7, textAlign: "center", padding: 0,
      textStyle: { fontSize: 25, fontWeight: "normal", color: "#000", fontFamily: FONT },
    });
    const emb = i === 0;
    const xBase: any = {
      type: "value", gridIndex: i,
      min: emb ? EMB_X.min : X_MIN, max: emb ? EMB_X.max : X_MAX,
      splitLine: { show: false }, axisLine: noLine,
    };
    if (emb) xBase.interval = EMB_X.step;
    const custom = emb ? {} : { customValues: X_TICKS };
    xAxis.push({
      ...xBase, position: "bottom",
      axisTick: { ...tick, ...custom },
      axisLabel: { ...lblStyle, margin: 13, formatter: (v: number) => String(v), ...custom },
    });
    xAxis.push({
      ...xBase, position: "top",
      axisTick: { ...tick, ...custom },
      axisLabel: { show: false, ...custom },
    });
    const yBase: any = {
      type: "value", gridIndex: i, min: Y_MIN[i], max: Y_MAX[i], interval: Y_STEP[i],
      splitLine: { show: false }, axisLine: noLine, axisTick: tick,
    };
    yAxis.push({
      ...yBase, position: "left",
      axisLabel: { ...lblStyle, margin: 11, formatter: fmtNum, showMaxLabel: i === 5 ? false : null },
      name: col === 0 ? Y_NAME : "", nameLocation: "middle", nameGap: 96, nameRotate: 90,
      nameTextStyle: { ...lblStyle },
    });
    yAxis.push({ ...yBase, position: "right", axisLabel: { show: false } });

    p.counter.forEach((c) => {
      series.push({
        type: "line", name: LEGEND_NAMES[1], xAxisIndex: 2 * i, yAxisIndex: 2 * i, data: c,
        symbol: "none", showSymbol: false, silent: true, color: "#000", z: 2,
        itemStyle: { color: "#000" },
        lineStyle: { color: "#000", width: CF_W, type: [2, 9], cap: "butt" },
      });
    });
    series.push({
      type: "line", name: LEGEND_NAMES[0], xAxisIndex: 2 * i, yAxisIndex: 2 * i, data: p.actual,
      symbol: "none", showSymbol: false, silent: true, color: "#000", z: 3,
      itemStyle: { color: "#000" },
      lineStyle: { color: "#000", width: ACT_W, join: "round" },
      markLine: {
        silent: true, symbol: ["none", "none"], label: { show: false }, animation: false,
        lineStyle: { color: "#ff0000", width: 2.8, type: "solid" },
        emphasis: { disabled: true },
        data: p.events.map((e) => ({ xAxis: e })),
      },
      markPoint: {
        silent: true, symbol: "circle", symbolSize: 2, animation: false,
        itemStyle: { color: "rgba(0,0,0,0)" },
        data: LABELS[i].map((l) => {
          const dx = l.dx ?? (l.side === "left" ? -1.5 : 0.8);
          const dy = l.dy ?? -2;
          return {
            coord: [l.at, l.anchor === "bottom" ? Y_MIN[i] : Y_MAX[i]],
            label: {
              show: true, formatter: l.text,
              position: [dx + 1, dy + 1],
              align: l.side === "left" ? "right" : "left",
              verticalAlign: l.anchor === "bottom" ? "bottom" : "top",
              color: "#ff0000", fontSize: FS, lineHeight: 28.3, fontFamily: FONT,
            },
          };
        }),
      },
    });
  });

  return {
    animation: false,
    backgroundColor: "#fff",
    textStyle: { fontFamily: FONT },
    title, grid, xAxis, yAxis, series,
    legend: {
      show: true, selectedMode: false, orient: "vertical",
      left: 808.8, top: 1348.3,
      data: [
        { name: LEGEND_NAMES[0], lineStyle: { width: ACT_W }, itemStyle: { opacity: 0 } },
        { name: LEGEND_NAMES[1], lineStyle: { width: CF_W }, itemStyle: { opacity: 0 } },
      ],
      itemStyle: { opacity: 0 },
      itemWidth: 94, itemHeight: 14, itemGap: 4.4,
      padding: [6, 11, 7, 18.6],
      borderColor: "#000", borderWidth: 1.5, borderRadius: 0, backgroundColor: "#fff",
      textStyle: { fontSize: FS, fontFamily: FONT, color: "#000", lineHeight: 28, padding: [0, 0, 0, 5] },
    },
  };
}

export default function App() {
  const ref = useRef<HTMLDivElement>(null);
  useEffect(() => {
    if (!ref.current) return;
    const chart = echarts.init(ref.current, undefined, { renderer: "svg" });
    chart.setOption(buildOption() as any);
    return () => chart.dispose();
  }, []);
  return (
    <div
      ref={ref}
      style={{ position: "absolute", left: 0, top: 0, width: 1181, height: 1680, overflow: "hidden", background: "#fff" }}
    />
  );
}
